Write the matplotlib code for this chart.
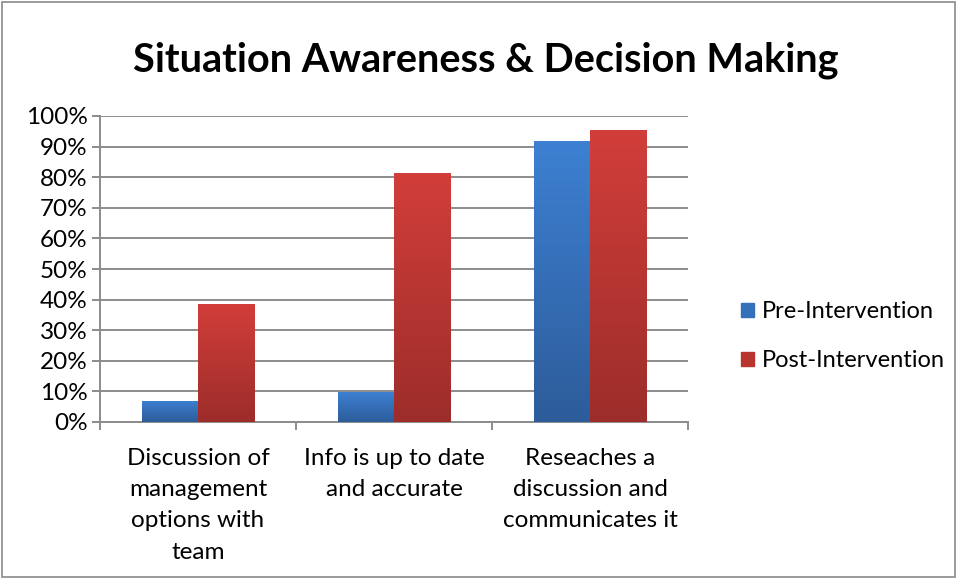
import numpy as np
import matplotlib
matplotlib.use("Agg")
import matplotlib.pyplot as plt
from matplotlib.colors import LinearSegmentedColormap
from matplotlib.patches import Rectangle

categories = ["Discussion of\nmanagement\noptions with\nteam",
              "Info is up to date\nand accurate",
              "Reseaches a\ndiscussion and\ncommunicates it"]
pre = [6.9, 9.8, 91.8]
post = [38.7, 81.4, 95.4]
series_names = ["Pre-Intervention", "Post-Intervention"]
yticks = list(range(0, 101, 10))

font = "Lato"
fs = 17.5
fig = plt.figure(figsize=(9.57, 5.78), dpi=100)
fig.patch.set_facecolor("white")
fig.add_artist(Rectangle((0.002, 0.002), 0.996, 0.994, transform=fig.transFigure,
                         fill=False, edgecolor="#8a8a8a", linewidth=1.2))
ax = fig.add_axes([100/957, 1-422/578, 588/957, 306/578])

x = np.arange(len(categories))
w = 0.286
b1 = ax.bar(x - w/2, pre, w, color="#3a78c8", zorder=3, label=series_names[0])
b2 = ax.bar(x + w/2, post, w, color="#c83a36", zorder=3, label=series_names[1])

cm_blue = LinearSegmentedColormap.from_list("b", ["#2d5c9a", "#3d80d2"])
cm_red = LinearSegmentedColormap.from_list("r", ["#9c2d2a", "#d23e3a"])
grad = np.linspace(0, 1, 256).reshape(-1, 1)
for bars, cm in ((b1, cm_blue), (b2, cm_red)):
    for p in bars:
        x0, y0 = p.get_x(), p.get_y()
        ww, hh = p.get_width(), p.get_height()
        im = ax.imshow(grad, cmap=cm, origin="lower", aspect="auto",
                       extent=(x0, x0 + ww, y0, y0 + hh), zorder=4)
        im.set_clip_path(p)

ax.set_xlim(-0.5, len(categories) - 0.5)
ax.set_ylim(0, 100)
ax.set_yticks(yticks)
ax.set_yticklabels([f"{t}%" for t in yticks], fontsize=fs, family=font)
ax.yaxis.grid(True, color="#8c8c8c", linewidth=1.4, zorder=0)
ax.set_axisbelow(True)
ax.set_xticks(np.arange(-0.5, len(categories), 1.0))
ax.set_xticklabels([])
ax.tick_params(axis="x", length=6, color="#8c8c8c", width=1.4, direction="out")
ax.tick_params(axis="y", length=6, color="#8c8c8c", width=1.4, direction="out", pad=3)
for s in ["top", "right"]:
    ax.spines[s].set_visible(False)
for s in ["left", "bottom"]:
    ax.spines[s].set_color("#8c8c8c")
    ax.spines[s].set_linewidth(1.4)

for i, c in enumerate(categories):
    ax.text(i, -8.5, c, ha="center", va="top", fontsize=fs, family=font,
            linespacing=1.6, transform=ax.transData, clip_on=False)

fig.text(486/957, 1-60/578, "Situation Awareness & Decision Making", ha="center",
         va="center", fontsize=28.5, fontweight="bold", family=font)

leg = ax.legend(handles=[b1, b2], labels=series_names, loc="center left",
                bbox_to_anchor=(1.07, 0.28), frameon=False,
                prop={"family": font, "size": 17}, handlelength=0.55, handleheight=0.55,
                handletextpad=0.35, labelspacing=1.2, borderpad=0)
for h, c in zip(leg.legend_handles, ["#3570bb", "#b8342f"]):
    h.set_color(c)

fig.savefig("out.png", dpi=100, facecolor="white")
